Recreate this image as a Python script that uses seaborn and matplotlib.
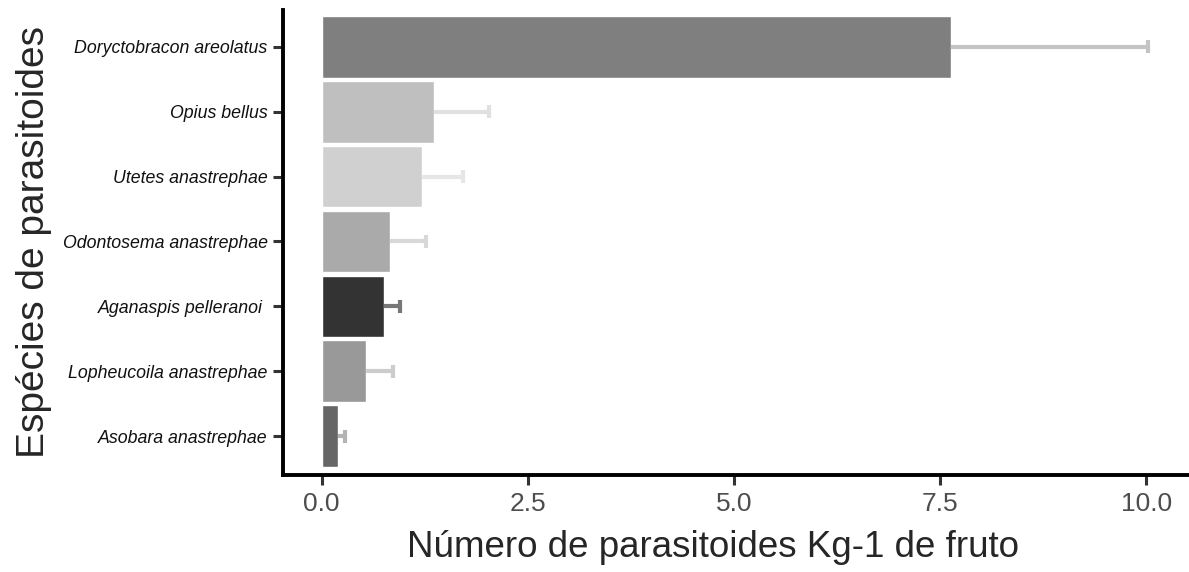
import matplotlib
matplotlib.use("Agg")
import matplotlib.pyplot as plt
import seaborn as sns
import pandas as pd
import numpy as np

species = ["Doryctobracon areolatus", "Opius bellus", "Utetes anastrephae",
           "Odontosema anastrephae", "Aganaspis pelleranoi ", "Lopheucoila anastrephae",
           "Asobara anastrephae"]
means = [7.63, 1.36, 1.22, 0.83, 0.75, 0.54, 0.20]
errors = [2.39, 0.67, 0.49, 0.44, 0.20, 0.32, 0.08]
bar_colors = ["#7f7f7f", "#bfbfbf", "#d0d0d0", "#aaaaaa", "#333333", "#999999", "#666666"]
err_colors = ["#c4c4c4", "#e0e0e0", "#e6e6e6", "#d8d8d8", "#777777", "#cccccc", "#b4b4b4"]
xticks = [0.0, 2.5, 5.0, 7.5, 10.0]

sns.set_theme(style="ticks")
plt.rcParams['font.family'] = ['Liberation Sans', 'DejaVu Sans']

df = pd.DataFrame({"species": species, "value": means})

fig = plt.figure(figsize=(11.89, 5.72), dpi=100)
ax = fig.add_axes([0.238, 0.1696, 0.762, 0.813])

sns.barplot(data=df, x="value", y="species", hue="species", palette=bar_colors,
            legend=False, width=0.95, saturation=1, ax=ax, orient="h", errorbar=None)

pos = np.arange(len(species))
m = np.array(means)
e = np.array(errors)
ax.hlines(pos, m, m + e, colors=err_colors, linewidth=3, zorder=1)
ax.vlines(m + e, pos - 0.1, pos + 0.1, colors=err_colors, linewidth=3, zorder=1)

ax.set_xlim(-0.47, 10.52)
ax.set_ylim(6.6, -0.57)
ax.set_xticks(xticks)
ax.set_xticklabels([f"{t:.1f}" for t in xticks], fontsize=19, color="#4d4d4d")
for lab in ax.get_yticklabels():
    lab.set_fontstyle("italic")
    lab.set_fontsize(12.8)
    lab.set_color("#111111")
ax.tick_params(axis="both", length=7, width=2.2, color="#333333")
ax.tick_params(axis="x", pad=5)
ax.tick_params(axis="y", pad=4)
for s in ["left", "bottom"]:
    ax.spines[s].set_linewidth(2.8)
    ax.spines[s].set_color("black")
sns.despine(ax=ax)

ax.set_xlabel("Número de parasitoides Kg-1 de fruto", fontsize=26.5)
ax.xaxis.set_label_coords(0.475, -0.118)
ax.set_ylabel("Espécies de parasitoides", fontsize=28, labelpad=8)

fig.savefig("out.png", dpi=100)
